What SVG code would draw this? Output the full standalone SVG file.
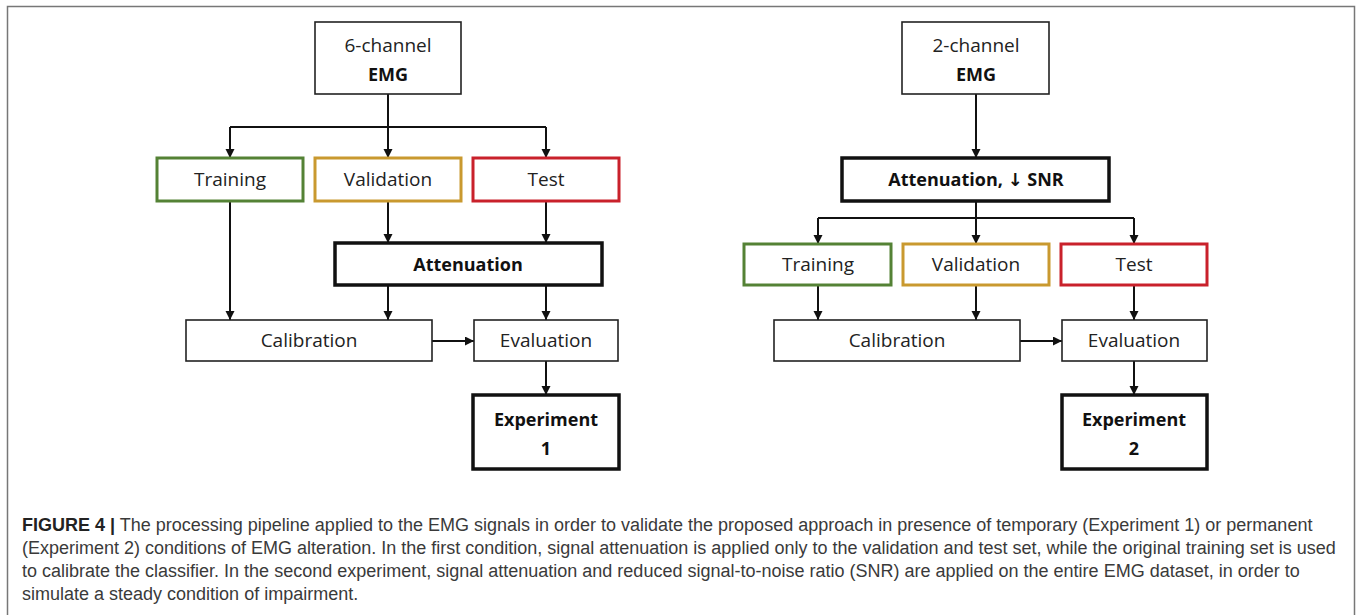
<svg xmlns="http://www.w3.org/2000/svg" width="1358" height="615" viewBox="0 0 1358 615">
<defs>
<marker id="ah" markerUnits="userSpaceOnUse" markerWidth="10" markerHeight="10" refX="9" refY="4.5" orient="auto">
<path d="M0,0 L9,4.5 L0,9 z" fill="#111"/>
</marker>
<style>
.bx{fill:#fff;stroke:#222;stroke-width:1.6}
.thick{fill:#fff;stroke:#111;stroke-width:3.5}
.tr{fill:#fff;stroke:#548235;stroke-width:3}
.va{fill:#fff;stroke:#c9992f;stroke-width:3}
.te{fill:#fff;stroke:#c9212b;stroke-width:3}
.t{font-family:"Open Sans","DejaVu Sans",sans-serif;font-size:19px;fill:#222;text-anchor:middle}
.b{font-family:"Open Sans","DejaVu Sans",sans-serif;font-size:18px;font-weight:bold;fill:#111;text-anchor:middle}
.c{font-family:"Liberation Sans",Arial,sans-serif;font-size:18px;fill:#3a3a3a}
.cb{font-weight:bold;fill:#222}
.ln{fill:none;stroke:#111;stroke-width:2}
.ar{fill:none;stroke:#111;stroke-width:2;marker-end:url(#ah)}
</style>
</defs>
<rect x="7.5" y="6.5" width="1347" height="640" fill="#fff" stroke="#777" stroke-width="1.5"/>

<g id="connectors">
<path class="ln" d="M388,94 V127 M230,127 H546"/>
<path class="ar" d="M230,127 V158"/>
<path class="ar" d="M388,127 V158"/>
<path class="ar" d="M546,127 V158"/>
<path class="ar" d="M230,201 V320"/>
<path class="ar" d="M388,201 V243"/>
<path class="ar" d="M546,201 V243"/>
<path class="ar" d="M388,285 V320"/>
<path class="ar" d="M546,285 V320"/>
<path class="ar" d="M432,341 H474"/>
<path class="ar" d="M546,361 V395"/>
<path class="ar" d="M976,94 V158"/>
<path class="ln" d="M976,201 V218 M818,218 H1134"/>
<path class="ar" d="M818,218 V244"/>
<path class="ar" d="M976,218 V244"/>
<path class="ar" d="M1134,218 V244"/>
<path class="ar" d="M818,285 V320"/>
<path class="ar" d="M976,285 V320"/>
<path class="ar" d="M1134,285 V320"/>
<path class="ar" d="M1020,341 H1062"/>
<path class="ar" d="M1134,361 V395"/>
</g>

<g id="emg6"><rect class="bx" x="315" y="22" width="146" height="72"/><text class="t" x="388" y="52">6-channel</text><text class="b" x="388" y="81">EMG</text></g>
<g id="training1"><rect class="tr" x="157" y="158" width="146" height="43"/><text class="t" x="230" y="186">Training</text></g>
<g id="validation1"><rect class="va" x="315" y="158" width="146" height="43"/><text class="t" x="388" y="186">Validation</text></g>
<g id="test1"><rect class="te" x="473" y="158" width="146" height="43"/><text class="t" x="546" y="186">Test</text></g>
<g id="attenuation1"><rect class="thick" x="335" y="243" width="267" height="42"/><text class="b" x="468" y="271">Attenuation</text></g>
<g id="calibration1"><rect class="bx" x="186" y="320" width="246" height="41"/><text class="t" x="309" y="347">Calibration</text></g>
<g id="evaluation1"><rect class="bx" x="474" y="320" width="144" height="41"/><text class="t" x="546" y="347">Evaluation</text></g>
<g id="experiment1"><rect class="thick" x="473" y="395" width="146" height="74"/><text class="b" x="546" y="426">Experiment</text><text class="b" x="546" y="455">1</text></g>

<g id="emg2"><rect class="bx" x="902" y="22" width="147" height="72"/><text class="t" x="976" y="52">2-channel</text><text class="b" x="976" y="81">EMG</text></g>
<g id="attenuation2"><rect class="thick" x="842" y="158" width="267" height="43"/><text class="b" x="976" y="186">Attenuation, ↓ SNR</text></g>
<g id="training2"><rect class="tr" x="744" y="244" width="147" height="41"/><text class="t" x="818" y="271">Training</text></g>
<g id="validation2"><rect class="va" x="903" y="244" width="146" height="41"/><text class="t" x="976" y="271">Validation</text></g>
<g id="test2"><rect class="te" x="1061" y="244" width="146" height="41"/><text class="t" x="1134" y="271">Test</text></g>
<g id="calibration2"><rect class="bx" x="774" y="320" width="246" height="41"/><text class="t" x="897" y="347">Calibration</text></g>
<g id="evaluation2"><rect class="bx" x="1062" y="320" width="145" height="41"/><text class="t" x="1134" y="347">Evaluation</text></g>
<g id="experiment2"><rect class="thick" x="1062" y="395" width="145" height="74"/><text class="b" x="1134" y="426">Experiment</text><text class="b" x="1134" y="455">2</text></g>

<g id="caption">
<text class="c" x="22" y="531"><tspan class="cb">FIGURE 4 |</tspan> The processing pipeline applied to the EMG signals in order to validate the proposed approach in presence of temporary (Experiment 1) or permanent</text>
<text class="c" x="22" y="554">(Experiment 2) conditions of EMG alteration. In the first condition, signal attenuation is applied only to the validation and test set, while the original training set is used</text>
<text class="c" x="22" y="577">to calibrate the classifier. In the second experiment, signal attenuation and reduced signal-to-noise ratio (SNR) are applied on the entire EMG dataset, in order to</text>
<text class="c" x="22" y="600">simulate a steady condition of impairment.</text>
</g>
</svg>
